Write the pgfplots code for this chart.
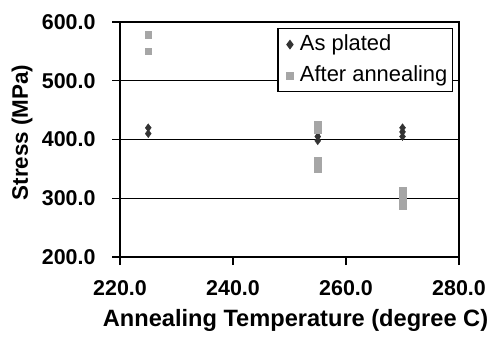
\documentclass[border=0pt]{standalone}
\usepackage{pgfplots}
\pgfplotsset{compat=1.18}
\usepackage{fontspec}
\setmainfont{Liberation Sans}
\definecolor{dia}{HTML}{333333}
\definecolor{sq}{HTML}{A6A6A6}
\begin{document}
\begin{tikzpicture}
\begin{axis}[
  scale only axis,
  width=339bp, height=235bp,
  xmin=220, xmax=280, ymin=200, ymax=600,
  xtick={220,240,260,280}, ytick={200,300,400,500,600},
  xticklabel style={/pgf/number format/.cd,fixed,fixed zerofill,precision=1},
  yticklabel style={/pgf/number format/.cd,fixed,fixed zerofill,precision=1},
  /pgf/number format/assume math mode=true,
  /pgf/number format/1000 sep={},
  ticklabel style={font=\fontsize{21.5}{26}\selectfont\bfseries},
  xticklabel shift=12bp,
  yticklabel shift=13bp,
  xlabel={Annealing Temperature (degree C)},
  ylabel={Stress (MPa)},
  every axis x label/.style={at={(rel axis cs:0.5,0)}, anchor=center, yshift=-63bp, xshift=6bp,
    font=\fontsize{23.7}{28}\selectfont\bfseries},
  every axis y label/.style={at={(rel axis cs:0,0.5)}, anchor=center, xshift=-98bp, yshift=7bp, rotate=90,
    font=\fontsize{22.5}{27}\selectfont\bfseries},
  tick align=outside,
  major tick length=8bp,
  xtick pos=bottom, ytick pos=left,
  axis line style={line width=1.2pt},
  tick style={line width=1.2pt, black},
  ymajorgrids,
  grid style={line width=1.2pt, black},
  legend image code/.code={\path[draw=none] (0bp,0bp) rectangle (14bp,0bp); \draw[#1, only marks] plot coordinates {(9bp,0bp)};},
  legend style={at={(rel axis cs:1,1)}, anchor=north east, xshift=-6bp, yshift=-6bp,
    font=\fontsize{22}{24}\selectfont, draw=black, line width=1.2pt,
    inner xsep=3bp, inner ysep=3.5bp, row sep=6bp, column sep=3bp,
    nodes={inner sep=2bp, text height=16bp, text depth=5bp}, cells={anchor=west}},
  legend cell align=left,
]
\addplot[only marks, mark=diamond*, mark size=4bp, color=dia] coordinates {
 (225,420) (225,410)
 (255,412) (255,405) (255,398)
 (270,420) (270,413) (270,405)
};
\addlegendentry{As plated}
\addplot[only marks, mark=square*, mark size=3.3bp, color=sq] coordinates {
 (225,578) (225,550)
 (255,425) (255,417) (255,364) (255,350)
 (270,314) (270,305) (270,296) (270,287)
};
\addlegendentry{After annealing}
\end{axis}
\pgfresetboundingbox
\path ([shift={(-120bp,-84bp)}]current axis.south west) rectangle ([shift={(34bp,22bp)}]current axis.north east);
\end{tikzpicture}
\end{document}
